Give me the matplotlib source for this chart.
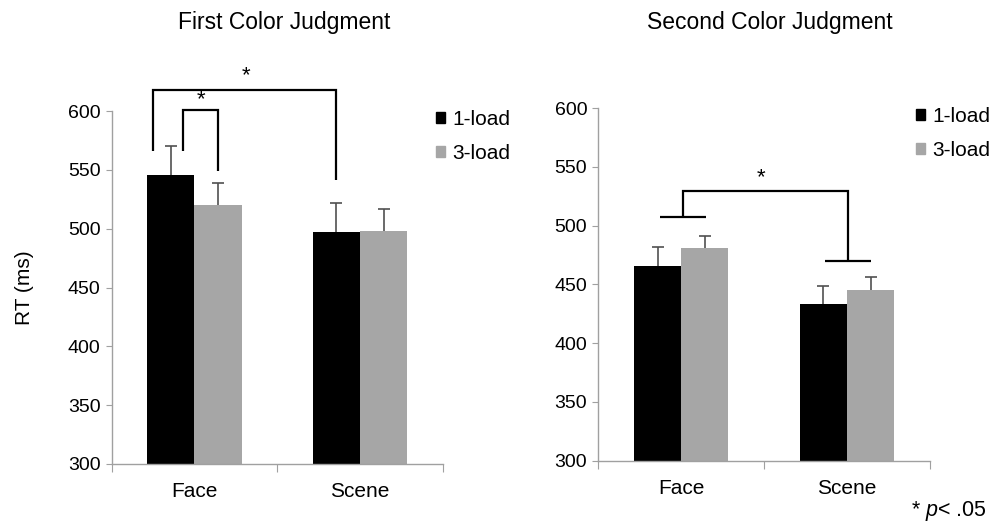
import matplotlib
matplotlib.use('Agg')
import matplotlib.pyplot as plt
from matplotlib.patches import Patch
import numpy as np

plt.rcParams['font.family'] = ['Liberation Sans', 'DejaVu Sans']
plt.rcParams['mathtext.fontset'] = 'custom'
plt.rcParams['mathtext.rm'] = 'Liberation Sans'
plt.rcParams['mathtext.it'] = 'Liberation Sans:italic'

categories = ['Face', 'Scene']
loads = ['1-load', '3-load']

# mean RT and SE, first color judgment
first_1load = [546, 497]
first_3load = [520, 498]
first_1load_se = [24, 25]
first_3load_se = [19, 19]

# mean RT and SE, second color judgment
second_1load = [466, 433]
second_3load = [481, 445]
second_1load_se = [16, 16]
second_3load_se = [10, 11]

bar_colors = ['#000000', '#a6a6a6']
axis_gray = '#a0a0a0'
bw = 0.285

fig = plt.figure(figsize=(9.91, 5.26), dpi=100)
ax1 = fig.add_axes([0.1127, 0.1179, 0.334, 0.671])
ax2 = fig.add_axes([0.6037, 0.1241, 0.3347, 0.6705])


def draw_panel(ax, vals1, vals3, se1, se3):
    centers = np.arange(len(categories)) + 0.5
    for k, (vals, se) in enumerate([(vals1, se1), (vals3, se3)]):
        x = centers - bw / 2 + k * bw
        ax.bar(x, np.array(vals) - 300, bw, bottom=300, color=bar_colors[k],
               label=loads[k], zorder=2)
        eb = ax.errorbar(x, vals, yerr=[np.zeros(len(se)), se], fmt='none',
                         ecolor='#505050', elinewidth=1.2, capsize=4,
                         capthick=1.2, zorder=1)
        # only the upper whisker gets a cap
        eb[1][0].set_visible(False)
    ax.set_xlim(0, 2)
    ax.set_ylim(300, 600)
    ax.set_yticks(np.arange(300, 601, 50))
    ax.set_xticks([0, 1, 2])
    ax.set_xticklabels([])
    ax.set_xticks(centers, minor=True)
    ax.set_xticklabels(categories, minor=True, fontsize=15)
    ax.tick_params(axis='x', which='minor', length=0, pad=13)
    ax.tick_params(axis='x', which='major', length=6, color=axis_gray)
    ax.tick_params(axis='y', length=4, color=axis_gray, labelsize=14, pad=4)
    for s in ['top', 'right']:
        ax.spines[s].set_visible(False)
    for s in ['left', 'bottom']:
        ax.spines[s].set_color(axis_gray)
        ax.spines[s].set_linewidth(1.0)
    handles = [Patch(color=c) for c in bar_colors]
    return handles


def line(ax, xs, ys):
    ax.plot(xs, ys, color='black', lw=1.6, clip_on=False, zorder=3,
            solid_capstyle='butt', solid_joinstyle='miter')


h = draw_panel(ax1, first_1load, first_3load, first_1load_se, first_3load_se)
draw_panel(ax2, second_1load, second_3load, second_1load_se, second_3load_se)

# significance brackets, first judgment
line(ax1, [0.25, 0.25, 1.358, 1.358], [566, 617.6, 617.6, 541])
ax1.text(0.81, 621, '*', ha='center', va='bottom', fontsize=16)
line(ax1, [0.433, 0.433, 0.642, 0.642], [566, 600.6, 600.6, 549])
ax1.text(0.54, 601, '*', ha='center', va='bottom', fontsize=16)

# significance bracket, second judgment (main effect of category)
line(ax2, [0.372, 0.648], [507, 507])
line(ax2, [0.5125, 0.5125, 1.504, 1.504], [507, 529.7, 529.7, 470])
line(ax2, [1.367, 1.642], [470, 470])
ax2.text(0.98, 532, '*', ha='center', va='bottom', fontsize=16)

ax1.set_ylabel('RT (ms)', fontsize=15, labelpad=24)

leg_kw = dict(frameon=False, fontsize=15, handlelength=0.42, handleheight=0.42,
              handletextpad=0.35, labelspacing=0.72, borderpad=0,
              borderaxespad=0, loc='upper left')
ax1.legend(h, loads, bbox_to_anchor=(436 / 991, 1 - 110 / 526),
           bbox_transform=fig.transFigure, **leg_kw)
ax2.legend(h, loads, bbox_to_anchor=(916 / 991, 1 - 107 / 526),
           bbox_transform=fig.transFigure, **leg_kw)

fig.text(284 / 991, 1 - 22 / 526, 'First Color Judgment', ha='center',
         va='center', fontsize=16.5)
fig.text(770 / 991, 1 - 22 / 526, 'Second Color Judgment', ha='center',
         va='center', fontsize=16.5)
fig.text(987 / 991, 1 - 511 / 526, '* $\\mathit{p}$< .05', ha='right',
         va='center', fontsize=15.5)

fig.savefig('out.png', dpi=100, facecolor='white')
